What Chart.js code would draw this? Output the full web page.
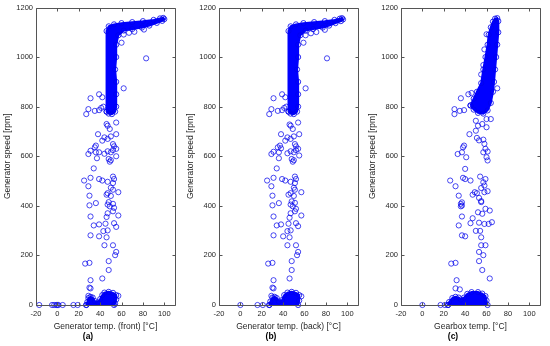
<!DOCTYPE html>
<html>
<head>
<meta charset="utf-8">
<script src="https://cdn.jsdelivr.net/npm/chart.js@4.4.0/dist/chart.umd.min.js"></script>
<style>
  html, body { margin: 0; padding: 0; background: #fff; }
  body { width: 550px; height: 346px; position: relative; overflow: hidden; }
  .panel { position: absolute; top: 0; width: 180px; height: 346px; }
</style>
</head>
<body>
<div class="panel" style="left:0px"><canvas id="chartA" width="180" height="346"></canvas></div>
<div class="panel" style="left:183px"><canvas id="chartB" width="180" height="346"></canvas></div>
<div class="panel" style="left:365px"><canvas id="chartC" width="180" height="346"></canvas></div>
<script>
// axis ticks shared by the three panels
const xTicks = [-20, 0, 20, 40, 60, 80, 100];
const yTicks = [0, 200, 400, 600, 800, 1000, 1200];
const yTitle = "Generator speed [rpm]";

// (a) generator temp front vs speed: scattered readings [temp, rpm]
const frontScatter = [
  [-17, 0], [-5, 0], [-3, 0], [-1, 0], [0, 0], [1, 0], [5, 0], [15, 0], [19, 0],
  [29, 37], [57, 37], [30, 70], [31, 67], [31, 100], [42, 107],
  [48, 141], [26, 167], [30, 170], [48, 177], [54, 201], [55, 214],
  [44, 241], [52, 241], [31, 281], [39, 277], [46, 273], [43, 298], [47, 301],
  [34, 321], [39, 325], [45, 328], [53, 330], [55, 315],
  [31, 357], [46, 355], [57, 361], [47, 370], [52, 378], [53, 392],
  [30, 402], [36, 411], [47, 405], [49, 398], [52, 408], [48, 415],
  [30, 441], [50, 440], [46, 445], [47, 451], [57, 455], [52, 465], [50, 473], [29, 479],
  [52, 492], [47, 497], [42, 502], [39, 508], [31, 513], [25, 502], [52, 518], [53, 508],
  [34, 551], [49, 578], [48, 589], [50, 584], [37, 592],
  [29, 609], [31, 622], [36, 616], [39, 616], [44, 610], [47, 620], [50, 616], [52, 625],
  [55, 630], [53, 640], [52, 649], [55, 600],
  [35, 636], [36, 643], [42, 663], [44, 676], [47, 670], [50, 680], [38, 689], [55, 689],
  [49, 710], [47, 723], [46, 730], [55, 736],
  [27, 770], [29, 790], [35, 783], [39, 786], [41, 795], [43, 800],
  [31, 834], [42, 838], [39, 850], [62, 874], [83, 995],
  [60, 1058], [62, 1091], [67, 1098], [72, 1102], [81, 1111]
];
// (a) outline of the dense cloud at rated speed and near standstill
const frontCore = [
  [46, 780], [46, 1105], [48, 1124], [53, 1132], [60, 1137], [70, 1141], [80, 1145],
  [90, 1150], [96, 1156], [99, 1158], [100, 1153], [98, 1146], [93, 1138], [86, 1127],
  [79, 1119], [70, 1113], [62, 1107], [57, 1088], [55, 1050], [55, 1000], [54, 950],
  [55, 900], [55, 850], [55, 800], [54, 780], [51, 770], [48, 772], [46, 780]
];
const frontLow = [
  [27, 0], [28, 12], [29, 28], [31, 33], [33, 30], [35, 16], [38, 10], [40, 24],
  [42, 40], [44, 50], [48, 53], [52, 49], [55, 40], [55, 22], [54, 5], [53, 0], [27, 0]
];

// (b) generator temp back vs speed
const backScatter = [
  [0, 0], [16, 0], [21, 0],
  [29, 37], [57, 35], [30, 70], [31, 67], [31, 100], [46, 107],
  [48, 141], [26, 167], [30, 170], [48, 177], [53, 201], [54, 214],
  [44, 241], [52, 241], [31, 281], [40, 277], [46, 273], [44, 298], [47, 301],
  [34, 321], [38, 325], [45, 328], [52, 330], [54, 318],
  [31, 357], [46, 352], [57, 361], [47, 370], [51, 378], [52, 388],
  [30, 402], [36, 411], [47, 405], [49, 398], [51, 412], [48, 418],
  [30, 441], [50, 440], [45, 445], [47, 451], [57, 455], [51, 465], [50, 473], [29, 479],
  [51, 492], [47, 497], [42, 502], [39, 508], [31, 513], [25, 502], [51, 518], [52, 508],
  [34, 551], [49, 578], [48, 589], [50, 584], [36, 592],
  [29, 609], [31, 618], [36, 616], [38, 632], [44, 612], [47, 620], [50, 616], [52, 625],
  [54, 630], [52, 640], [51, 649], [55, 603],
  [35, 636], [37, 643], [42, 663], [44, 676], [47, 670], [50, 680], [38, 689], [55, 689],
  [49, 710], [47, 723], [46, 728], [54, 736],
  [27, 770], [29, 790], [35, 783], [39, 786], [41, 795], [43, 800],
  [31, 834], [42, 838], [39, 850], [61, 874], [81, 995],
  [59, 1058], [61, 1088], [66, 1096], [71, 1101], [79, 1110]
];
const backCore = [
  [45, 780], [45, 1105], [47, 1124], [52, 1132], [59, 1137], [69, 1141], [79, 1145],
  [88, 1150], [93, 1155], [95, 1157], [96, 1152], [94, 1145], [89, 1137], [83, 1127],
  [77, 1119], [68, 1113], [61, 1107], [56, 1088], [54, 1050], [54, 1000], [53, 950],
  [54, 900], [54, 850], [54, 800], [53, 780], [50, 770], [47, 772], [45, 780]
];
const backLow = [
  [27, 0], [28, 14], [30, 30], [32, 33], [34, 28], [36, 14], [39, 20], [41, 40],
  [44, 50], [48, 53], [52, 49], [55, 40], [55, 18], [54, 0], [27, 0]
];

// (c) gearbox temp vs speed
const gearScatter = [
  [0, 0], [17, 0], [21, 0],
  [31, 67], [35, 63], [32, 100], [63, 107], [56, 141], [27, 167], [31, 170], [53, 177],
  [57, 201], [53, 214], [55, 241], [59, 241],
  [37, 281], [40, 277], [55, 273], [50, 299], [54, 299], [34, 321],
  [45, 330], [53, 332], [58, 327], [62, 327], [65, 334], [47, 350], [37, 357], [56, 368],
  [52, 374], [63, 381], [59, 388],
  [36, 398], [37, 401], [36, 408], [55, 415], [37, 414], [55, 419], [53, 432], [34, 441],
  [47, 445], [51, 451], [49, 455], [58, 455], [61, 459], [55, 472], [58, 482], [31, 479],
  [26, 502], [38, 513], [40, 508], [45, 502], [54, 518], [59, 508], [57, 495],
  [40, 549], [61, 583], [60, 596], [41, 596], [33, 609], [37, 616], [57, 616], [61, 619],
  [59, 630], [38, 636], [39, 643], [58, 650],
  [44, 689], [51, 674], [53, 664], [57, 667], [50, 703], [52, 723], [56, 730], [60, 717],
  [50, 743], [60, 750], [64, 750],
  [30, 770], [30, 790], [35, 783], [39, 786], [36, 834], [43, 850], [46, 855],
  [55, 930], [57, 968], [58, 1031], [60, 1092], [70, 874]
];
const gearCore = [
  [45, 805], [48, 832], [51, 860], [55, 895], [57, 950], [59, 1000], [61, 1050],
  [62, 1090], [64, 1120], [66, 1143], [68, 1155], [70, 1157], [71, 1145], [71, 1100],
  [70, 1050], [69, 1000], [68, 950], [67, 900], [66, 860], [64, 815], [61, 785],
  [57, 772], [52, 775], [48, 788], [45, 805]
];
const gearLow = [
  [24, 0], [25, 12], [28, 28], [31, 33], [34, 30], [36, 22], [39, 30], [42, 45],
  [46, 52], [52, 52], [56, 46], [59, 36], [60, 18], [61, 0], [24, 0]
];

Chart.defaults.font.family = "'Liberation Sans', Arial, sans-serif";
Chart.defaults.color = "#262626";

const markerColor = "rgba(0, 0, 235, 0.8)";

// MATLAB style box with inward ticks
const boxAxes = {
  id: "boxAxes",
  afterDraw(chart) {
    const { ctx, chartArea: a, scales: { x, y } } = chart;
    const l = Math.round(a.left) + 0.5, r = Math.round(a.right) + 0.5;
    const t = Math.round(a.top) + 0.5, b = Math.round(a.bottom) + 0.5;
    ctx.save();
    ctx.strokeStyle = "#555";
    ctx.lineWidth = 1;
    ctx.beginPath();
    ctx.rect(l, t, r - l, b - t);
    x.ticks.forEach((tk) => {
      const px = Math.round(x.getPixelForValue(tk.value)) + 0.5;
      ctx.moveTo(px, b); ctx.lineTo(px, b - 3);
      ctx.moveTo(px, t); ctx.lineTo(px, t + 3);
    });
    y.ticks.forEach((tk) => {
      const py = Math.round(y.getPixelForValue(tk.value)) + 0.5;
      ctx.moveTo(l, py); ctx.lineTo(l + 3, py);
      ctx.moveTo(r, py); ctx.lineTo(r - 3, py);
    });
    ctx.stroke();
    ctx.restore();
  }
};

const toXY = (pts) => pts.map(([x, y]) => ({ x, y }));

function makePanel(id, xTitle, caption, cloud, core, low) {
  const coreStyle = {
    type: "line",
    fill: "shape",
    tension: 0,
    borderColor: "rgb(0, 0, 255)",
    backgroundColor: "rgb(0, 0, 255)",
    borderWidth: 2,
    pointRadius: 2.6,
    pointBorderWidth: 1,
    pointBorderColor: markerColor,
    pointBackgroundColor: "transparent",
    clip: 8
  };
  return new Chart(document.getElementById(id), {
    type: "scatter",
    data: {
      datasets: [
        { ...coreStyle, data: toXY(core) },
        { ...coreStyle, data: toXY(low) },
        {
          data: toXY(cloud),
          pointStyle: "circle",
          pointRadius: 2.6,
          borderWidth: 0.9,
          borderColor: markerColor,
          backgroundColor: "transparent",
          clip: 8
        }
      ]
    },
    options: {
      responsive: false,
      animation: false,
      layout: { padding: { top: 6, right: 4, left: 0, bottom: 0 } },
      plugins: {
        legend: { display: false },
        tooltip: { enabled: false },
        title: {
          display: true,
          text: caption,
          position: "bottom",
          color: "#000",
          font: { size: 8.5, weight: "bold" },
          padding: { top: 0, bottom: 4 }
        }
      },
      scales: {
        x: {
          type: "linear",
          min: -20,
          max: 110,
          grid: { display: false, drawTicks: false },
          border: { display: false },
          afterBuildTicks: (s) => { s.ticks = xTicks.map((v) => ({ value: v })); },
          afterFit: (s) => { s.height = 26.8; },
          ticks: { font: { size: 7.5 }, padding: 4, maxRotation: 0, callback: (v) => String(v) },
          title: {
            display: true,
            text: xTitle,
            font: { size: 8.5 },
            padding: { top: 0, bottom: 0 }
          }
        },
        y: {
          type: "linear",
          min: 0,
          max: 1200,
          grid: { display: false, drawTicks: false },
          border: { display: false },
          afterBuildTicks: (s) => { s.ticks = yTicks.map((v) => ({ value: v })); },
          afterFit: (s) => { s.width = 36; },
          ticks: { font: { size: 7.5 }, padding: 3, callback: (v) => String(v) },
          title: {
            display: true,
            text: yTitle,
            font: { size: 8.5 },
            padding: { top: 3, bottom: 0 }
          }
        }
      }
    },
    plugins: [boxAxes]
  });
}

makePanel("chartA", "Generator temp. (front) [°C]", "(a)", frontScatter, frontCore, frontLow);
makePanel("chartB", "Generator temp. (back) [°C]", "(b)", backScatter, backCore, backLow);
makePanel("chartC", "Gearbox temp. [°C]", "(c)", gearScatter, gearCore, gearLow);
</script>
</body>
</html>
